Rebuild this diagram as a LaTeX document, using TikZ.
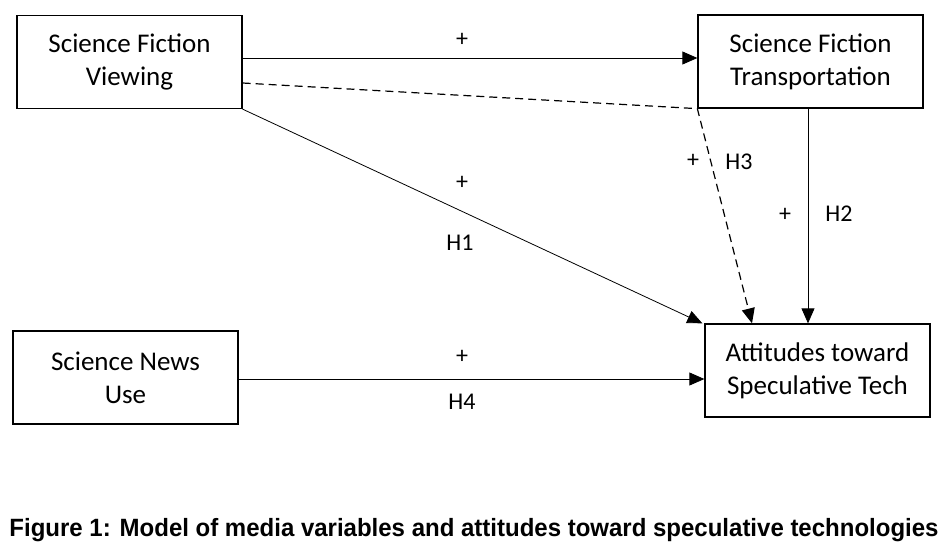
\documentclass[tikz,border=0pt]{standalone}
\usepackage{fontspec}
\setmainfont{Carlito}
\newfontfamily\captfont{Liberation Sans}
\usetikzlibrary{arrows.meta}
\tikzset{
x=1pt, y=-1pt, % pixel-like coordinates
>={Triangle[length=15pt,width=13pt]}, % filled arrow heads
var/.style={draw, line width=1.3pt, minimum width=225pt, minimum height=93pt, align=center, font=\fontsize{27}{33}\selectfont}, % the boxes
path/.style={->, line width=0.8pt}, % the connectors
lbl/.style={font=\fontsize{24}{28}\selectfont}, % signs and hypotheses
}
\begin{document}
\begin{tikzpicture}
\useasboundingbox (0,0) rectangle (948,552);
\node[var] (sfv) at (129.5,62) {Science Fiction\\Viewing};
\node[var] (sft) at (810.5,61.5) {Science Fiction\\Transportation};
\node[var] (snu) at (125.5,377.5) {Science News\\Use};
\node[var] (att) at (817.5,370.5) {Attitudes toward\\Speculative Tech};
\draw[path] (sfv.east |- 0,58) -- (sft.west |- 0,58);
\draw[path] (sfv.south east) -- ([xshift=-2pt]att.north west);
\draw[path, line width=1.2pt, dash pattern=on 8pt off 5pt] (sfv.east |- 0,83) -- (sft.south west) -- (att.north -| 752,0);
\draw[path] (sft.south -| 808,0) -- (att.north -| 808,0);
\draw[path] (snu.east |- 0,379) -- (att.west |- 0,379);
\node[lbl] at (462,40) {+};
\node[lbl] at (462,183) {+};
\node[lbl] at (460,243) {H1};
\node[lbl] at (693,161) {+};
\node[lbl] at (739,162) {H3};
\node[lbl] at (785,215) {+};
\node[lbl] at (839,214) {H2};
\node[lbl] at (462,357) {+};
\node[lbl] at (462,402) {H4};
\node[font=\captfont\bfseries\fontsize{25}{28}\selectfont, xscale=0.96] (cap) at (474,530) {Figure 1: Model of media variables and attitudes toward speculative technologies};
\end{tikzpicture}
\end{document}
